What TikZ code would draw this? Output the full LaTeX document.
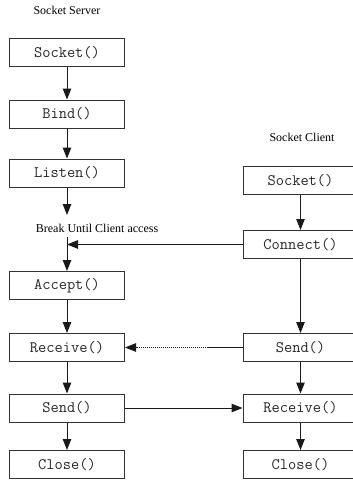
\documentclass[tikz,border=0pt]{standalone}
\usepackage{fontspec}
\setmainfont{Liberation Serif}
\usetikzlibrary{arrows.meta}
\begin{document}
\begin{tikzpicture}[x=1pt,y=-1pt,
  fn/.style={draw=black!80,line width=1pt,minimum width=115pt,minimum height=28pt,inner sep=0pt,font=\fontsize{16}{17}\selectfont\ttfamily,text=black!85},
  ttl/.style={font=\fontsize{12}{13}\selectfont,inner sep=0pt},
  conn/.style={line width=1pt,draw=black!90,-{Triangle[length=11pt,width=8.5pt]}}]
\useasboundingbox (0,0) rectangle (353,482);
% titles
\node[ttl] (ts) at (67,10) {Socket Server};
\node[ttl] (tc) at (302,137) {Socket Client};
\node[ttl] (brk) at (97,228) {Break Until Client access};
% server column
\node[fn] (ssock) at (67,52.5) {Socket()};
\node[fn] (sbind) at (67,114) {Bind()};
\node[fn] (slist) at (67,173) {Listen()};
\node[fn] (sacc) at (67,285.5) {Accept()};
\node[fn] (srecv) at (67,347.5) {Receive()};
\node[fn] (ssend) at (67,408) {Send()};
\node[fn] (sclose) at (67,464.5) {Close()};
% client column
\node[fn] (csock) at (300.5,180.5) {Socket()};
\node[fn] (cconn) at (300.5,244.5) {Connect()};
\node[fn] (csend) at (300.5,347.5) {Send()};
\node[fn] (crecv) at (300.5,408) {Receive()};
\node[fn] (cclose) at (300.5,464.5) {Close()};
% helper coordinates
\coordinate (wait) at (67,215);
\coordinate (resume) at (67,237);
\coordinate (join) at (67,244.5);
\coordinate (dotstart) at (208,347.5);
% server arrows
\draw[conn] (ssock) -- (sbind);
\draw[conn] (sbind) -- (slist);
\draw[conn] (slist) -- (wait);
\draw[conn] (resume) -- (sacc);
\draw[conn] (sacc) -- (srecv);
\draw[conn] (srecv) -- (ssend);
\draw[conn] (ssend) -- (sclose);
% client arrows
\draw[conn] (csock) -- (cconn);
\draw[conn] (cconn) -- (csend);
\draw[conn] (csend) -- (crecv);
\draw[conn] (crecv) -- (cclose);
% cross arrows
\draw[conn] (cconn.west) -- (join);
\draw[line width=1pt,draw=black!90] (csend.west) -- (dotstart);
\draw[conn,densely dotted] (dotstart) -- (srecv.east);
\draw[conn] (ssend.east) -- (crecv.west);
\end{tikzpicture}
\end{document}
